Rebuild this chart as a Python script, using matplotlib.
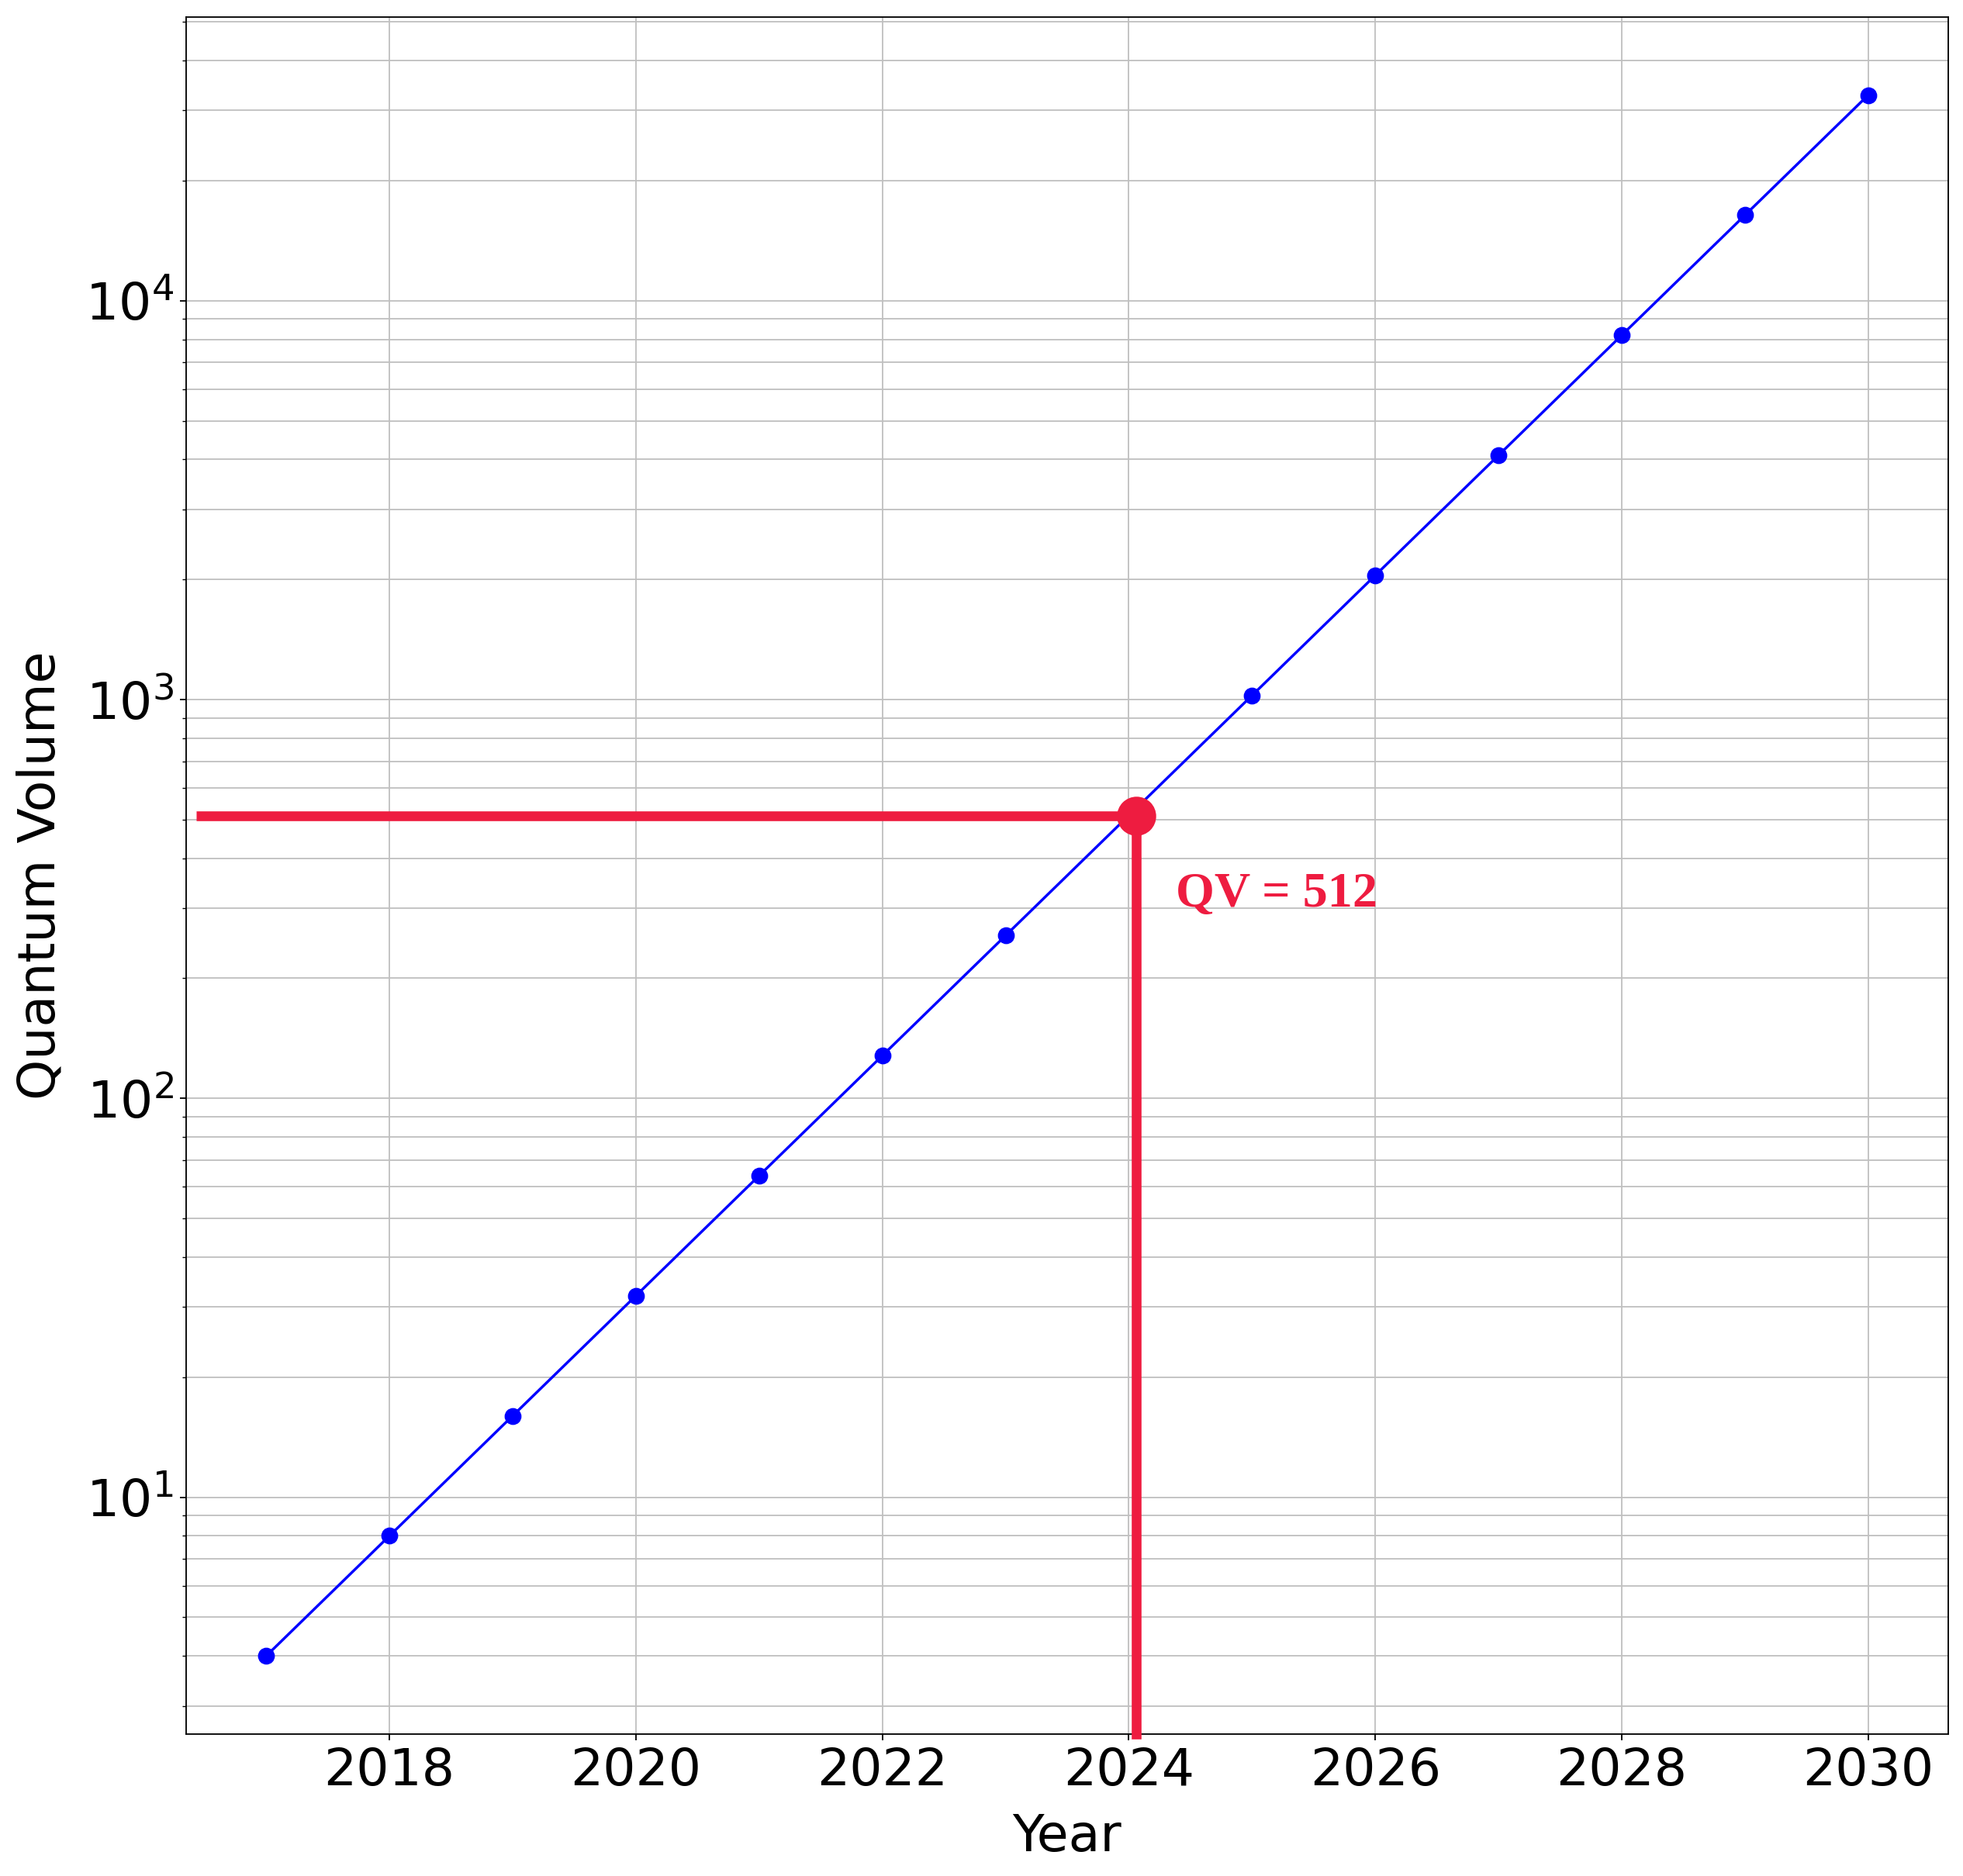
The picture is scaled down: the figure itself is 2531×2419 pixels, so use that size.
import numpy as np
import matplotlib.pyplot as plt

# Projected quantum volume, doubling every year
years = [2017, 2018, 2019, 2020, 2021, 2022, 2023, 2024, 2025, 2026, 2027, 2028, 2029, 2030]
qv = [4, 8, 16, 32, 64, 128, 256, 512, 1024, 2048, 4096, 8192, 16384, 32768]

# highlighted point
hl_year = 2024.06
hl_qv = 512
hl_line_start = 2016.43
hl_label = "QV = 512"
hl_label_pos = (2024.38, 302)

red = "#EE1C40"

fig = plt.figure(figsize=(2531 / 165, 2419 / 165), dpi=165)
ax = fig.add_axes([0.0948, 0.0757, 0.8977, 0.9152])

ax.plot(years, qv, "o-", color="blue", linewidth=1.5, markersize=8.5, zorder=3)
ax.set_yscale("log")

xlo, xhi = ax.get_xlim()
ylo, yhi = ax.get_ylim()

# red guide lines to the highlighted point
ax.plot([hl_line_start, hl_year], [hl_qv, hl_qv], color=red, linewidth=5.5,
        solid_capstyle="butt", zorder=4)
ax.plot([hl_year, hl_year], [ylo, hl_qv], color=red, linewidth=5.5,
        solid_capstyle="projecting", clip_on=False, zorder=4)
ax.plot([hl_year], [hl_qv], "o", color=red, markersize=21, zorder=5)
ax.text(hl_label_pos[0], hl_label_pos[1], hl_label, color=red, fontsize=28,
        fontweight="bold", family="Liberation Serif", va="baseline", ha="left")

ax.set_xlim(xlo, xhi)
ax.set_ylim(ylo, yhi)

ax.grid(True, which="both", color="#c0c0c0", linewidth=0.8)
ax.set_axisbelow(True)
ax.tick_params(labelsize=29)
ax.set_xlabel("Year", fontsize=29, labelpad=9)
ax.set_ylabel("Quantum Volume", fontsize=29, labelpad=11)

fig.savefig("out.png", dpi=165)
